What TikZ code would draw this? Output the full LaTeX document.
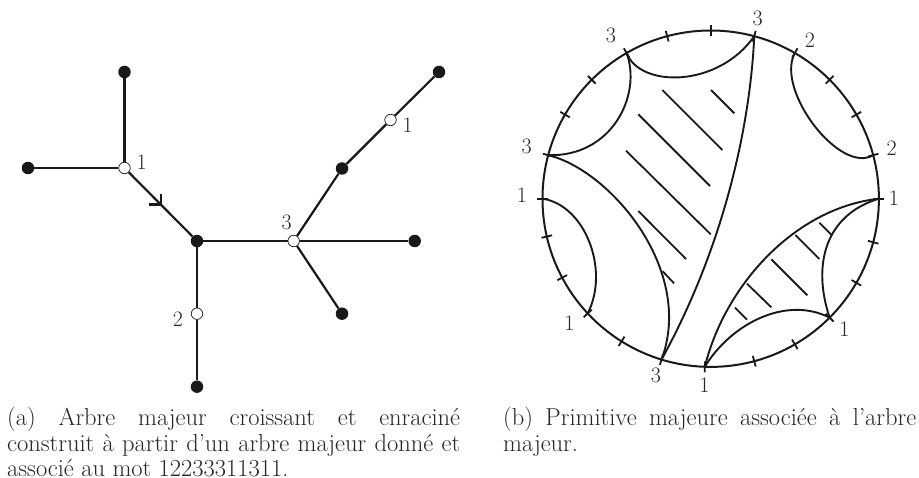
\documentclass[tikz,border=0pt]{standalone}
\usepackage{fontspec}
\usetikzlibrary{calc}
\tikzset{
  blackdot/.style={circle,fill=black!90,draw=none,minimum size=12.5pt,inner sep=0pt},
  whitedot/.style={circle,fill=white,draw=black!90,line width=0.7pt,minimum size=11.5pt,inner sep=0pt},
  treeedge/.style={line width=2.2pt,draw=black!90},
  rim/.style={line width=2pt,draw=black!90},
  arcline/.style={line width=1.9pt,draw=black!90},
  hatchline/.style={line width=1.8pt,draw=black!90},
  ticksty/.style={line width=1.8pt,draw=black!90},
  lab/.style={inner sep=0pt,font=\fontsize{22}{24}\selectfont,text=black!85},
  capt/.style={inner sep=0pt,anchor=north west,align=justify,font=\fontsize{24.5}{25.5}\selectfont,text=black!85}
}
\begin{document}
\begin{tikzpicture}[x=1pt,y=-1pt]
\useasboundingbox (0,0) rectangle (919,478);
% tree
\node[blackdot] (top) at (124.5,72) {};
\node[blackdot] (left) at (28,168) {};
\node[whitedot] (wa) at (124.5,168) {};
\node[blackdot] (ctr) at (197,241) {};
\node[whitedot] (wb) at (293.7,241) {};
\node[blackdot] (up) at (342,168.5) {};
\node[whitedot] (wc) at (390.5,120) {};
\node[blackdot] (tr) at (439,72) {};
\node[blackdot] (rt) at (414.7,241) {};
\node[blackdot] (lo) at (342,313.7) {};
\node[whitedot] (wd) at (197,313.7) {};
\node[blackdot] (bot) at (197,386.7) {};
\draw[treeedge] (top) -- (wa);
\draw[treeedge] (left) -- (wa);
\draw[treeedge] (wa) -- (ctr) coordinate[pos=0.503] (tip);
\draw[treeedge] (ctr) -- (wb);
\draw[treeedge] (wb) -- (up);
\draw[treeedge] (up) -- (wc);
\draw[treeedge] (wc) -- (tr);
\draw[treeedge] (wb) -- (rt);
\draw[treeedge] (wb) -- (lo);
\draw[treeedge] (ctr) -- (wd);
\draw[treeedge] (wd) -- (bot);
\draw[treeedge] ($(tip)+(-12,0)$) -- (tip) -- ($(tip)+(0,-11)$);
\node[lab] (la) at (141.7,162) {1};
\node[lab] (lb) at (407.7,125) {1};
\node[lab] (lc) at (286.7,222) {3};
\node[lab] (ld) at (178,319) {2};
% circle
\coordinate (o) at (710.7,198.7);
\draw[rim] (o) circle[radius=168.2];
\foreach \c in {0,15,...,165,182,197,212,227,242,257,270,285,300,315,330,345}{
  \coordinate (t\c) at ({710.7+168.2*sin(\c)},{198.7-168.2*cos(\c)});
  \draw[ticksty] ({710.7+162.7*sin(\c)},{198.7-162.7*cos(\c)}) -- ({710.7+173.7*sin(\c)},{198.7-173.7*cos(\c)});
}
\draw[arcline] (t330) .. controls (640,88) and (718,88) .. (t15);
\draw[arcline] (t330) .. controls (642,95) and (612,157) .. (t285);
\draw[arcline] (t285) .. controls (610,170) and (695,270) .. (t197);
\draw[arcline] (t15) .. controls (750,130) and (722,250) .. (t197);
\draw[arcline] (t30) .. controls (775,90) and (840,175) .. (t75);
\draw[arcline] (t270) .. controls (585,205) and (610,270) .. (t227);
\draw[arcline] (t90) .. controls (795,208) and (725,285) .. (t182);
\draw[arcline] (t182) .. controls (730,325) and (785,295) .. (t135);
\draw[arcline] (t135) .. controls (812,265) and (825,215) .. (t90);
% hatching
\draw[hatchline] (662.3,90) -- (722.3,150);
\draw[hatchline] (711,90) -- (734.3,113.3);
\draw[hatchline] (638.3,114.3) -- (710,186);
\draw[hatchline] (626,150.7) -- (710.7,234.3);
\draw[hatchline] (638.3,211) -- (686,259);
\draw[hatchline] (662.7,271.3) -- (674,283.3);
\draw[hatchline] (819.3,222.7) -- (831.7,235);
\draw[hatchline] (795.3,235) -- (819.3,259);
\draw[hatchline] (771.3,259.3) -- (807.3,295.3);
\draw[hatchline] (747,283.7) -- (771.3,307.3);
\draw[hatchline] (735,307.7) -- (747,319.7);
% circle labels
\node[lab] (n1) at (611,35) {3};
\node[lab] (n2) at (757.7,18.3) {3};
\node[lab] (n3) at (810,40) {2};
\node[lab] (n4) at (891.7,148) {2};
\node[lab] (n5) at (526.7,146) {3};
\node[lab] (n6) at (522,195) {1};
\node[lab] (n7) at (894,198) {1};
\node[lab] (n8) at (569.3,323) {1};
\node[lab] (n9) at (656,375) {3};
\node[lab] (n10) at (704.3,385) {1};
\node[lab] (n11) at (844.3,329) {1};
% captions
\node[capt,text width=453pt] (ca) at (7,407) {(a) Arbre majeur croissant et enraciné\linebreak construit à partir d’un arbre majeur donné et\linebreak associé au mot 12233311311.};
\node[capt,text width=413pt] (cb) at (503,407) {(b) Primitive majeure associée à l’arbre\linebreak majeur.};
\end{tikzpicture}
\end{document}
